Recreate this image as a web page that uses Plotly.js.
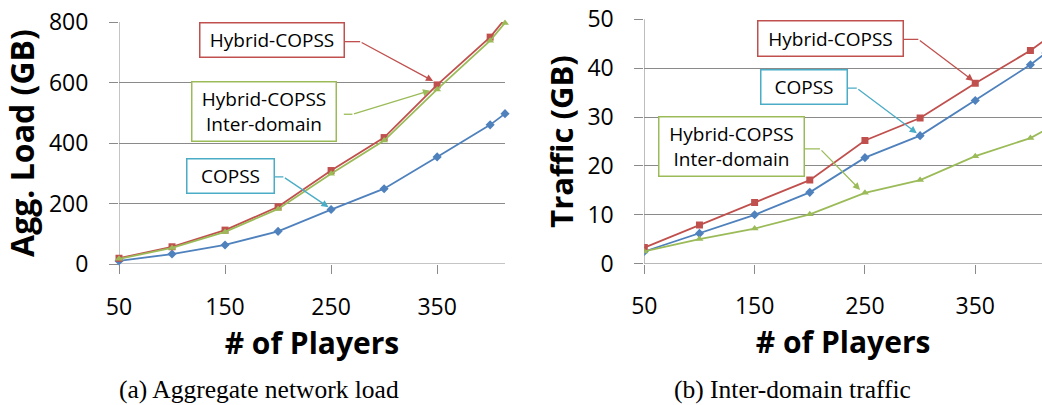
<!DOCTYPE html>
<html>
<head>
<meta charset="utf-8">
<script src="https://cdn.plot.ly/plotly-3.0.1.min.js"></script>
<style>html,body{margin:0;padding:0;background:#fff;}#chart{width:1042px;height:405px;}</style>
</head>
<body>
<div id="chart"></div>
<script>
// ---- data ----
var players = [50, 100, 150, 200, 250, 300, 350, 400, 414];
var xTicks = [50, 150, 250, 350];

var loadCOPSS  = [10, 33, 63, 108, 180, 249, 354, 460, 497];
var loadHybrid = [19, 57, 112, 189, 309, 418, 592, 750, 810];
var loadInter  = [17, 53, 106, 182, 298, 408, 577, 738, 797];

var trafficCOPSS  = [2.5, 6.2, 10.0, 14.6, 21.7, 26.2, 33.4, 40.7, 43.1];
var trafficHybrid = [3.3, 7.9, 12.5, 17.1, 25.2, 29.8, 36.9, 43.6, 45.9];
var trafficInter  = [2.5, 5.05, 7.2, 10.1, 14.5, 17.1, 22.0, 25.7, 27.4];

var nameCOPSS = 'COPSS', nameHybrid = 'Hybrid-COPSS', nameInter = 'Hybrid-COPSS<br>Inter-domain';
var captionA = '(a) Aggregate network load', captionB = '(b) Inter-domain traffic';

// ---- styles ----
var BLUE = '#4F81BD', RED = '#C0504D', GREEN = '#9BBB59', CYAN = '#4BACC6', GRID = '#8a8a8a';
var FONT = 'Open Sans, Noto Sans, sans-serif';

function tr(x, y, color, symbol, xa, ya, clip) {
  return {x: x, y: y, type: 'scatter', mode: 'lines+markers', xaxis: xa, yaxis: ya,
    cliponaxis: clip, showlegend: false,
    line: {color: color, width: 1.8},
    marker: {color: color, symbol: symbol, size: 7}};
}
var data = [
  tr(players, loadCOPSS, BLUE, 'diamond', 'x', 'y', false),
  tr(players, loadHybrid, RED, 'square', 'x', 'y', false),
  tr(players, loadInter, GREEN, 'triangle-up', 'x', 'y', false),
  tr(players, trafficCOPSS, BLUE, 'diamond', 'x2', 'y2', true),
  tr(players, trafficHybrid, RED, 'square', 'x2', 'y2', true),
  tr(players, trafficInter, GREEN, 'triangle-up', 'x2', 'y2', true)
];

function xaxis(domain, range) {
  return {domain: domain, range: range, tickvals: xTicks, showgrid: false, zeroline: false,
    showline: false, ticks: 'outside', ticklen: 9, tickcolor: GRID, tickwidth: 1,
    ticklabelstandoff: 13,
    tickfont: {family: FONT, size: 23, color: '#000'},
    title: {text: '# of Players', standoff: 8, font: {family: FONT, size: 30, weight: 'bold', color: '#000'}}};
}
function yaxis(domain, range, dtick, title, anchor, tsize) {
  return {domain: domain, range: range, dtick: dtick, anchor: anchor, showgrid: true, gridcolor: GRID, gridwidth: 1,
    zeroline: false, showline: false, ticks: 'outside', ticklen: 9, tickcolor: GRID,
    ticklabelstandoff: 16,
    tickfont: {family: FONT, size: 23, color: '#000'},
    title: {text: title, standoff: 4, font: {family: FONT, size: tsize, weight: 'bold', color: '#000'}}};
}

// ---- callouts ----
var annotations = [], shapes = [];
function callout(xr, yr, text, color, cx, cy, w, h, edgeX, elbowX, elbowY, tipX, tipY) {
  annotations.push({xref: xr, yref: yr, x: cx, y: cy, text: text, showarrow: false,
    xanchor: 'center', yanchor: 'middle', width: w, height: h, borderpad: 0,
    bordercolor: color, borderwidth: 1.5, bgcolor: '#fff', align: 'center', valign: 'middle',
    font: {family: FONT, size: 19, color: '#000'}});
  shapes.push({type: 'line', xref: xr, yref: yr, x0: edgeX, y0: elbowY, x1: elbowX, y1: elbowY,
    line: {color: color, width: 1.3}});
  annotations.push({xref: xr, yref: yr, axref: xr, ayref: yr, x: tipX, y: tipY, ax: elbowX, ay: elbowY,
    text: '', showarrow: true, arrowhead: 2, arrowsize: 1.1, arrowwidth: 1.3, arrowcolor: color, standoff: 0});
}
// left chart
callout('x', 'y', nameHybrid, RED, 194.3, 739, 143, 33, 262.3, 277.4, 735, 346.2, 605);
callout('x', 'y', nameInter, GREEN, 186.5, 504, 143, 58, 262, 270.1, 495, 343.4, 573);
callout('x', 'y', nameCOPSS, CYAN, 154.7, 291, 86, 33, 196.5, 205, 288, 247.6, 188);
// right chart
callout('x2', 'y2', nameHybrid, RED, 218.6, 46.1, 144, 34, 283.9, 298.4, 45.9, 348.3, 37.4);
callout('x2', 'y2', nameCOPSS, CYAN, 194.5, 36.1, 85, 33, 233.5, 242.6, 35.9, 297, 26.7);
callout('x2', 'y2', nameInter, GREEN, 129.2, 24.0, 144, 58, 194.8, 209.3, 23.5, 245.6, 15.1);

// captions
annotations.push({xref: 'paper', yref: 'paper', x: 259 / 1042, y: 1 - 389 / 405, text: captionA,
  showarrow: false, xanchor: 'center', yanchor: 'middle', borderpad: 0,
  font: {family: 'Liberation Serif, Times New Roman, serif', size: 25.5, color: '#000'}});
annotations.push({xref: 'paper', yref: 'paper', x: 792 / 1042, y: 1 - 389 / 405, text: captionB,
  showarrow: false, xanchor: 'center', yanchor: 'middle', borderpad: 0,
  font: {family: 'Liberation Serif, Times New Roman, serif', size: 25.5, color: '#000'}});

// axis lines drawn as shapes along the axes (x at zero, y at x=50)
shapes.push({type: 'line', xref: 'x domain', yref: 'y', x0: 0, x1: 1, y0: 0, y1: 0, line: {color: GRID, width: 1}, layer: 'below'});
shapes.push({type: 'line', xref: 'x', yref: 'y domain', x0: 50, x1: 50, y0: 0, y1: 1, line: {color: GRID, width: 1}, layer: 'below'});
shapes.push({type: 'line', xref: 'x2 domain', yref: 'y2', x0: 0, x1: 1, y0: 0, y1: 0, line: {color: GRID, width: 1}, layer: 'below'});
shapes.push({type: 'line', xref: 'x2', yref: 'y2 domain', x0: 50, x1: 50, y0: 0, y1: 1, line: {color: GRID, width: 1}, layer: 'below'});

var layout = {
  width: 1042, height: 405,
  margin: {l: 0, r: 0, t: 0, b: 0},
  paper_bgcolor: '#fff', plot_bgcolor: '#fff',
  showlegend: false,
  xaxis: Object.assign(xaxis([119 / 1042, 505 / 1042], [50, 414]), {anchor: 'y'}),
  yaxis: yaxis([1 - 264 / 405, 1 - 22 / 405], [0, 800], 200, 'Agg. Load (GB)', 'x', 32),
  xaxis2: Object.assign(xaxis([644.3 / 1042, 1], [50, 410.5]), {anchor: 'y2'}),
  yaxis2: yaxis([1 - 263.7 / 405, 1 - 19.3 / 405], [0, 50], 10, 'Traffic (GB)', 'x2', 31),
  annotations: annotations,
  shapes: shapes
};

Plotly.newPlot('chart', data, layout, {staticPlot: true, displayModeBar: false});
</script>
</body>
</html>
